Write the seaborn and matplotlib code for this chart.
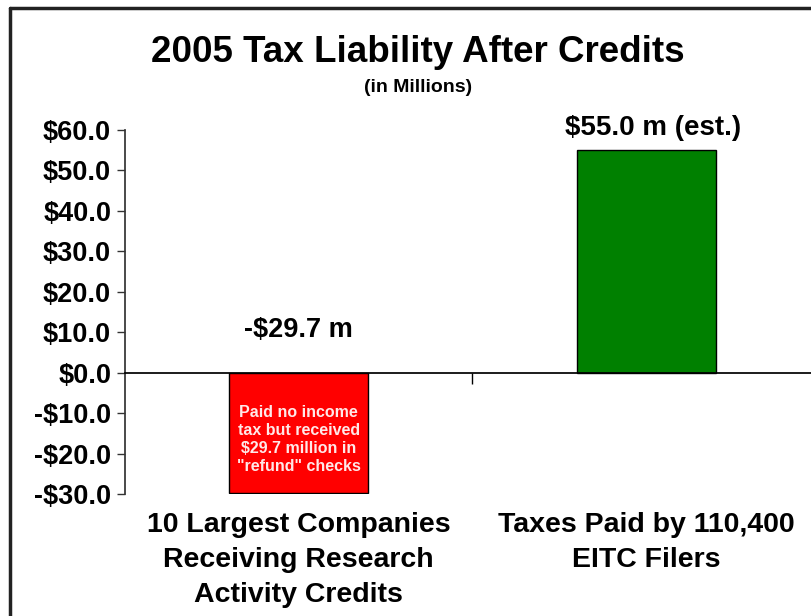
import matplotlib
matplotlib.use("Agg")
import matplotlib.pyplot as plt
import matplotlib.transforms as mtransforms
from matplotlib.lines import Line2D
import seaborn as sns
import pandas as pd

# Data
categories = ["10 Largest Companies\nReceiving Research\nActivity Credits",
              "Taxes Paid by 110,400\nEITC Filers"]
values = [-29.7, 55.0]
bar_labels = ["-$29.7 m", "$55.0 m (est.)"]
bar_colors = ["#FF0000", "#008000"]
yticks = [-30, -20, -10, 0, 10, 20, 30, 40, 50, 60]
note = "Paid no income\ntax but received\n$29.7 million in\n\"refund\" checks"

sns.set_theme(style="white")
plt.rcParams['font.family'] = ['Liberation Sans', 'DejaVu Sans']
plt.rcParams['text.color'] = 'black'
plt.rcParams['ytick.color'] = 'black'

fig = plt.figure(figsize=(8.12, 6.16), dpi=100)
ax = fig.add_axes([125 / 812, 1 - 494 / 616, 695 / 812, 364 / 616])

df = pd.DataFrame({"cat": categories, "val": values})
sns.barplot(data=df, x="cat", y="val", hue="cat", palette=bar_colors, saturation=1,
            width=0.4, edgecolor="black", linewidth=1, legend=False, ax=ax)

ax.set_xlim(-0.5, 1.5)
ax.set_ylim(-30, 60)
ax.set_yticks(yticks)
ax.set_yticklabels([f"-${abs(v):.1f}" if v < 0 else f"${v:.1f}" for v in yticks],
                   fontsize=19.5, fontweight="bold", color="black")
ax.tick_params(axis="y", direction="out", length=6, width=1, color="#333333", pad=4, left=True)
ax.spines["top"].set_visible(False)
ax.spines["right"].set_visible(False)
ax.spines["left"].set_color("#333333")
ax.spines["bottom"].set_position(("data", 0))
ax.spines["bottom"].set_color("black")
ax.set_xticks([0.5])
ax.set_xticklabels([""])
ax.tick_params(axis="x", direction="out", length=8, width=1, color="black", bottom=True)
ax.set_xlabel("")
ax.set_ylabel("")

# category labels below the plot
trans = mtransforms.blended_transform_factory(ax.transData, ax.transAxes)
for i, c in enumerate(categories):
    ax.text(i, -0.05, c, transform=trans, ha="center", va="top",
            fontsize=20.5, fontweight="bold", linespacing=1.45)

# value labels
ax.text(0, 10.5, bar_labels[0], ha="center", va="center", fontsize=19.5, fontweight="bold")
ax.text(1.02, 60.5, bar_labels[1], ha="center", va="center", fontsize=20, fontweight="bold")

# note inside the red bar
ax.text(0, -16.5, note, ha="center", va="center", fontsize=11.5, fontweight="bold",
        color="#FFE8E8", linespacing=1.25)

# titles
fig.text(418 / 812, 1 - 52 / 616, "2005 Tax Liability After Credits",
         ha="center", va="center", fontsize=26.5, fontweight="bold")
fig.text(418 / 812, 1 - 87 / 616, "(in Millions)",
         ha="center", va="center", fontsize=14, fontweight="bold")

# frame
fig.add_artist(Line2D([10 / 812, 10 / 812], [0, 1 - 8 / 616], transform=fig.transFigure,
                      color="#222222", linewidth=2.5))
fig.add_artist(Line2D([10 / 812, 1], [1 - 8 / 616, 1 - 8 / 616], transform=fig.transFigure,
                      color="#222222", linewidth=2.5))

fig.savefig("out.png", dpi=100)
